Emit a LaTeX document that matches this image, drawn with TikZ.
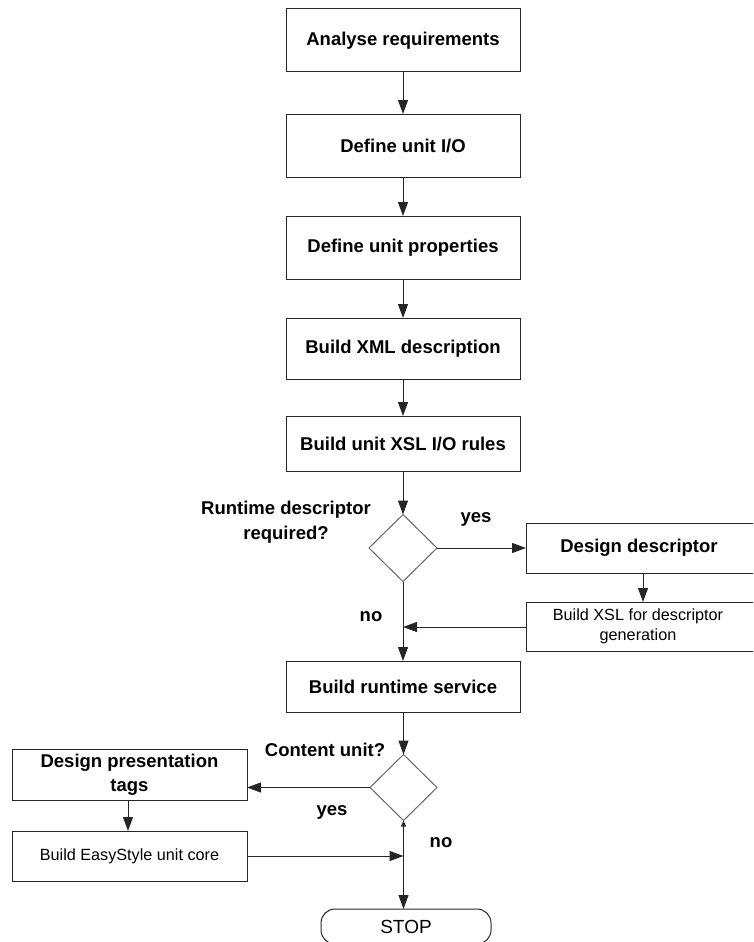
\documentclass[tikz,border=0pt]{standalone}
\usepackage{fontspec}
\setmainfont{Liberation Sans}
\usetikzlibrary{shapes.geometric,arrows.meta,calc}
\begin{document}
\begin{tikzpicture}[x=1pt,y=-1pt,
  every node/.style={inner sep=0pt, outer sep=0pt},
  stepbox/.style={draw=black!85, line width=1pt, minimum width=234pt,
    font=\fontsize{18.5}{23}\selectfont\bfseries},
  sidebox/.style={draw=black!85, line width=1pt, minimum width=260pt},
  leftbox/.style={draw=black!85, line width=1pt, minimum width=235pt},
  decision/.style={diamond, draw=black!60, line width=1pt,
    minimum width=68pt, minimum height=67pt},
  tag/.style={font=\fontsize{18.5}{25}\selectfont\bfseries, align=center},
  boldtxt/.style={font=\fontsize{18.5}{24}\selectfont\bfseries, align=center},
  thintxt/.style={font=\fontsize{16.2}{20}\selectfont, align=center},
  flow/.style={draw=black!85, line width=1pt, -{Triangle[length=14pt,width=10pt]}},
  tinyflow/.style={draw=black!85, line width=1pt, -{Triangle[length=6pt,width=5pt]}}
]
\clip (0,0) rectangle (753,942);

% main column
\node[stepbox, minimum height=63pt] (a1) at (403,40.5) {Analyse requirements};
\node[stepbox, minimum height=63pt] (a2) at (403,145.5) {Define unit I/O};
\node[stepbox, minimum height=63pt] (a3) at (403,247.5) {Define unit properties};
\node[stepbox, minimum height=61pt] (a4) at (403,348.5) {Build XML description};
\node[stepbox, minimum height=55pt] (a5) at (403,443.5) {Build unit XSL I/O rules};

% first decision
\node[decision] (d1) at (403,548) {};
\node[tag] (q1) at (286,522.5) {Runtime descriptor\\required?};
\node[tag] (y1) at (476,519) {yes};
\node[tag] (n1) at (371,617) {no};

% descriptor branch
\node[sidebox, minimum height=50pt, anchor=north west,
  label={[boldtxt, xshift=-17pt]center:Design descriptor}] (dd) at (526,523) {};
\node[sidebox, minimum height=49pt, anchor=north west,
  label={[thintxt, xshift=-18pt]center:{Build XSL for descriptor\\generation}}] (bx) at (526,602) {};
\coordinate (j1) at (403,627);

\node[stepbox, minimum height=51pt] (rs) at (403,686.5) {Build runtime service};

% second decision
\node[decision, minimum width=67pt, minimum height=66pt] (d2) at (403.5,787.5) {};
\node[tag] (q2) at (325,750) {Content unit?};
\node[tag] (y2) at (332,812) {yes};
\node[tag] (n2) at (441,843) {no};

\node[leftbox, minimum height=51pt, boldtxt] (pt) at (129.5,774.5) {Design presentation\\tags};
\node[leftbox, minimum height=50pt, thintxt] (ec) at (129.5,856) {Build EasyStyle unit core};
\coordinate (j2) at (403.5,856);

\node[draw=black!85, line width=1pt, rounded corners=14pt, minimum width=170pt,
  minimum height=35pt, font=\fontsize{19}{23}\selectfont] (stop) at (406,926.5) {STOP};

% connectors
\draw[flow] (a1) -- (a2);
\draw[flow] (a2) -- (a3);
\draw[flow] (a3) -- (a4);
\draw[flow] (a4) -- (a5);
\draw[flow] (a5) -- (d1);
\draw[flow] (d1.east) -- (d1.east -| dd.west);
\draw[flow] ($(dd.south west)+(117,0)$) -- ($(bx.north west)+(117,0)$);
\draw[flow] (j1 -| bx.west) -- (j1);
\draw[flow] (d1.south) -- (rs.north);
\draw[flow] (rs.south -| d2.north) -- (d2.north);
\draw[flow] (d2.west) -- (d2.west -| pt.east);
\draw[flow] (pt.south -| 128,0) -- (ec.north -| 128,0);
\draw[flow] (ec.east) -- (j2);
\draw[tinyflow] (j2) -- (d2.south);
\draw[flow] (d2.south) -- (stop.north -| d2.south);
\end{tikzpicture}
\end{document}
